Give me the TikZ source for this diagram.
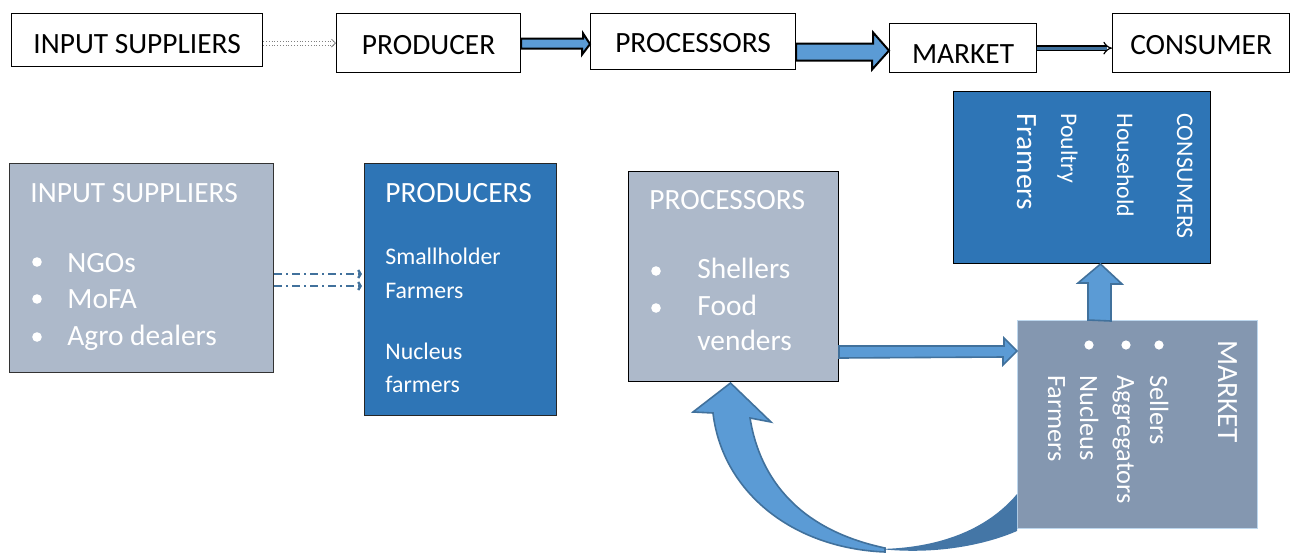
\documentclass[tikz,border=0pt]{standalone}
\usepackage{fontspec}
\setmainfont{Carlito}
\usetikzlibrary{arrows.meta, calc}
\definecolor{boxgray}{RGB}{173,185,202}
\definecolor{boxblue}{RGB}{46,117,182}
\definecolor{mktgray}{RGB}{132,151,176}
\definecolor{arrowblue}{RGB}{91,155,213}
\definecolor{arrowedge}{RGB}{65,113,156}
\definecolor{arrowdark}{RGB}{68,118,166}

\begin{document}
\begin{tikzpicture}[x=0.5pt, y=-0.5pt,
  big/.style={font=\fontsize{14.7}{17}\selectfont},
  mid/.style={font=\fontsize{13.2}{16}\selectfont},
  small/.style={font=\fontsize{11.9}{14}\selectfont},
  topbox/.style={draw=black, line width=0.6pt, anchor=north west, inner sep=0pt,
                 text height=11pt, text depth=0pt, big},
  panel/.style={anchor=north west, inner sep=0pt, line width=0.5pt},
  wtxt/.style={text=white, anchor=base west, inner sep=0pt},
  vtxt/.style={wtxt, rotate=-90},
  blkT/.style={fill=arrowblue, draw=black, line width=1pt},
  blkB/.style={fill=arrowblue, draw=arrowedge, line width=0.8pt},
  ddash/.style={draw=arrowedge, line width=1.2pt, dash pattern=on 4pt off 2pt on 1pt off 2pt,
                -{Straight Barb[length=1.2pt, width=4pt]}}]
  \useasboundingbox (0,0) rectangle (1290,553);

  % chain along the top
  \node[topbox, minimum width=125.5pt, minimum height=26.5pt, text height=13pt] (tIn) at (11,13) {INPUT SUPPLIERS};
  \node[topbox, minimum width=92pt,    minimum height=29.5pt] (tPr) at (336,13) {PRODUCER};
  \node[topbox, minimum width=102.5pt, minimum height=28pt]   (tPc) at (590,13) {PROCESSORS};
  \node[topbox, minimum width=73.5pt,  minimum height=24.5pt, text height=15pt] (tMk) at (889,23) {MARKET};
  \node[topbox, minimum width=88.5pt,  minimum height=29.5pt] (tCo) at (1112,13) {CONSUMER};

  \draw[gray, double, double distance=1.6pt, densely dotted, -{Straight Barb[length=2pt]}]
        (tIn.east |- tPr.west) -- (tPr.west);
  \draw[blkT] ($(tPr.east)+(0,-4.5)$) -- ++(62,0) -- ++(0,-5) -- ($(tPc.west)+(0,2.5)$)
        -- ++(-8,10.5) -- ++(0,-6) -- ($(tPr.east)+(0,5.5)$) -- cycle;
  \draw[blkT] ($(tPc.east)+(0,2)$) -- ++(77,0) -- ++(0,-11) -- ($(tMk.west)+(0,2.5)$)
        -- ++(-17,19) -- ++(0,-9) -- ($(tPc.east)+(0,19)$) -- cycle;
  \draw[black, line width=0.6pt, double=arrowedge, double distance=1.6pt, -{Implies}]
        (tMk.east) -- (tMk.east -| tCo.west);

  % panels
  \node[panel, draw=black!80, fill=boxgray, minimum width=132pt, minimum height=104.5pt] (inS) at (9,163) {};
  \node[panel, draw=black!85, fill=boxblue, minimum width=96pt,  minimum height=126pt]   (prS) at (364,163) {};
  \node[panel, draw=black,    fill=boxgray, minimum width=105pt, minimum height=105pt]   (pcS) at (628,171) {};
  \node[panel, draw=black,    fill=boxblue, minimum width=128.5pt, minimum height=86pt]  (coS) at (953,91) {};
  \node[panel, draw=arrowblue!40, fill=mktgray, minimum width=120pt, minimum height=104pt] (maS) at (1017,320) {};

  % input suppliers
  \node[wtxt, big] (inT) at (30,202) {INPUT SUPPLIERS};
  \node[wtxt, big] (in1) at (67,272) {NGOs};
  \node[wtxt, big] (in2) at (67,308) {MoFA};
  \node[wtxt, big] (in3) at (67,345) {Agro dealers};
  \foreach \y in {262,299,337} \fill[white] (37,\y) circle (2.4pt);

  % producers
  \node[wtxt, big]   (prT) at (385,202) {PRODUCERS};
  \node[wtxt, small] (pr1) at (385,264) {Smallholder};
  \node[wtxt, small] (pr2) at (385,298) {Farmers};
  \node[wtxt, small] (pr3) at (385,359) {Nucleus};
  \node[wtxt, small] (pr4) at (385,392) {farmers};

  % processors
  \node[wtxt, big] (pcT) at (649,209) {PROCESSORS};
  \node[wtxt, big] (pc1) at (697,278) {Shellers};
  \node[wtxt, big] (pc2) at (697,315) {Food};
  \node[wtxt, big] (pc3) at (697,350) {venders};
  \foreach \y in {271,308} \fill[white] (656,\y) circle (2.4pt);

  % consumers, turned on its side
  \node[vtxt, small] (coT) at (1177,113) {CONSUMERS};
  \node[vtxt, small] (co1) at (1117,113) {Household};
  \node[vtxt, small] (co2) at (1061,113) {Poultry};
  \node[vtxt, big]   (co3) at (1017,113) {Framers};

  % market, turned on its side
  \node[vtxt, big] (maT) at (1218,340) {MARKET};
  \node[vtxt, mid] (ma1) at (1150,375) {Sellers};
  \node[vtxt, mid] (ma2) at (1117,375) {Aggregators};
  \node[vtxt, mid] (ma3) at (1080,375) {Nucleus};
  \node[vtxt, mid] (ma4) at (1048,375) {Farmers};
  \foreach \x in {1159,1126,1089} \fill[white] (\x,345) circle (2.3pt);

  % links between panels
  \draw[ddash] ($(inS.north east)+(0,111)$) -- ($(prS.north west)+(-2,111)$);
  \draw[ddash] ($(inS.north east)+(0,123)$) -- ($(prS.north west)+(-2,123)$);
  \draw[blkB] ($(pcS.south east)+(0,-36)$) -- ++(165,0) -- ++(0,-8) -- ($(maS.north west)+(0,31)$)
        -- ++(-14,14) -- ++(0,-8) -- ($(pcS.south east)+(0,-24)$) -- cycle;
  \draw[blkB] ($(maS.north west)+(71,0)$) -- ++(0,-37) -- ++(-10,0) -- ($(coS.south east)+(-110.5,0)$)
        -- ++(21.5,20) -- ++(-11,0) -- ++(0,37) -- cycle;

  % curved arrow back to the processors
  \coordinate (cTip) at ($(pcS.south)+(-3,1)$);
  \fill[arrowdark] ($(maS.south west)+(0,-35)$) .. controls (985,532) and (935,548) .. (880,549)
        .. controls (935,555) and (985,545) .. ($(maS.south west)+(0,2)$) -- cycle;
  \draw[blkB] (cTip) -- (693,412) -- (713,413) .. controls (722,490) and (790,548) .. (885,552)
        -- (885,548) .. controls (800,530) and (760,480) .. (750,418) -- (771,422) -- cycle;
\end{tikzpicture}
\end{document}
